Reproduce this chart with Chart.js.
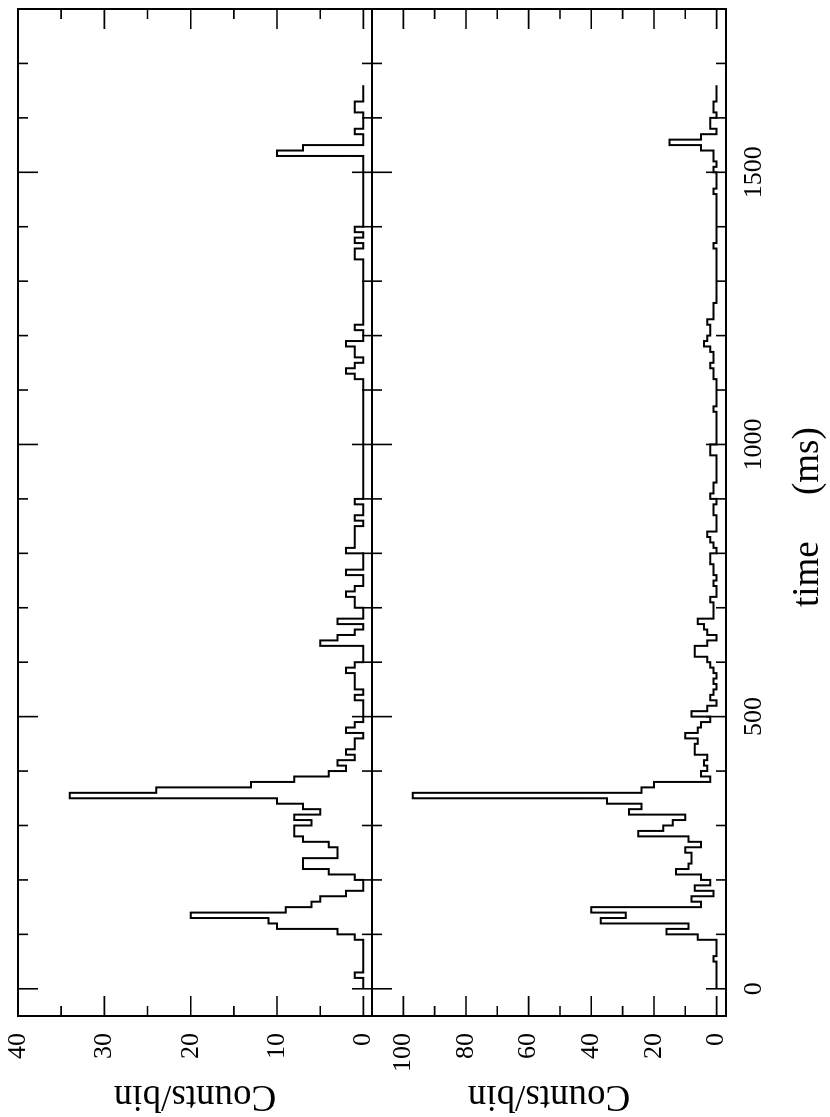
<!DOCTYPE html>
<html>
<head>
<meta charset="utf-8">
<script src="https://cdn.jsdelivr.net/npm/chart.js@4.4.1/dist/chart.umd.min.js"></script>
<style>
  html, body { margin: 0; padding: 0; background: #fff; overflow: hidden; }
  /* the plot is drawn landscape, then turned a quarter turn to fit the page */
  #wrap { position: absolute; left: 0; top: 0; width: 1117px; height: 830px;
          transform-origin: 0 0; transform: translateY(1117px) rotate(-90deg); }
</style>
</head>
<body>
<div id="wrap"><canvas id="chart" width="1117" height="830"></canvas></div>
<script>
// 10 ms bins, first bin starts at 0 ms
var binWidthMs = 10;
var binStartMs = 0;

// upper panel, counts per bin
var countsUpper = [
  0, 0, 1, 0, 0, 0, 0, 0, 0, 1,
  3, 10, 11, 20, 9, 6, 5, 2, 0, 0,
  1, 4, 7, 7, 3, 3, 4, 7, 8, 8,
  6, 8, 5, 7, 10, 34, 24, 13, 8, 4,
  2, 3, 1, 2, 1, 1, 0, 2, 1, 0,
  0, 0, 0, 1, 0, 1, 1, 1, 2, 1,
  0, 0, 0, 5, 3, 1, 0, 3, 0, 0,
  1, 1, 2, 1, 0, 0, 2, 0, 0, 0,
  2, 1, 1, 1, 1, 0, 1, 0, 0, 1,
  0, 0, 0, 0, 0, 0, 0, 0, 0, 0,
  0, 0, 0, 0, 0, 0, 0, 0, 0, 0,
  0, 0, 1, 2, 1, 0, 1, 1, 2, 0,
  0, 1, 0, 0, 0, 0, 0, 0, 0, 0,
  0, 0, 0, 0, 1, 1, 0, 1, 0, 1,
  0, 0, 0, 0, 0, 0, 0, 0, 0, 0,
  0, 0, 0, 10, 7, 0, 0, 1, 0, 0,
  0, 1, 1, 0, 0, 0
];

// lower panel, counts per bin
var countsLower = [
  0, 0, 0, 0, 0, 1, 0, 0, 0, 6,
  16, 9, 37, 29, 40, 5, 8, 1, 7, 2,
  5, 13, 9, 8, 8, 10, 5, 9, 25, 17,
  14, 10, 28, 24, 35, 97, 24, 20, 2, 5,
  3, 4, 3, 7, 7, 6, 10, 6, 5, 2,
  8, 3, 0, 2, 1, 0, 1, 0, 1, 2,
  3, 7, 7, 3, 0, 3, 4, 6, 1, 1,
  1, 2, 0, 0, 1, 0, 1, 1, 2, 2,
  0, 1, 2, 3, 0, 0, 0, 1, 1, 0,
  2, 1, 1, 0, 0, 0, 0, 0, 2, 2,
  0, 0, 0, 0, 0, 0, 1, 0, 0, 0,
  0, 0, 1, 1, 2, 1, 1, 2, 4, 3,
  2, 2, 3, 1, 1, 1, 0, 0, 0, 0,
  0, 0, 0, 0, 0, 0, 1, 0, 0, 0,
  0, 0, 0, 0, 0, 0, 1, 0, 0, 0,
  1, 0, 1, 1, 5, 15, 5, 0, 2, 2,
  0, 1, 1, 0, 0, 0
];

var timeLabelTicks = [0, 500, 1000, 1500];
var timeMinorTicks = [0, 100, 200, 300, 400, 500, 600, 700, 800, 900,
                      1000, 1100, 1200, 1300, 1400, 1500, 1600, 1700];
var upperLabelTicks = [0, 10, 20, 30, 40];
var upperMinorTicks = [0, 5, 10, 15, 20, 25, 30, 35];
var lowerLabelTicks = [0, 20, 40, 60, 80, 100];
var lowerMinorTicks = [0, 10, 20, 30, 40, 50, 60, 70, 80, 90, 100];

var serif = "'Liberation Serif', 'Times New Roman', serif";
var tickFont = { family: serif, size: 26 };
var titleFont = { family: serif, size: 37, lineHeight: 1.15 };

function histPoints(counts) {
  var pts = counts.map(function (c, i) {
    return { x: binStartMs + i * binWidthMs, y: c };
  });
  // closing edge of the last bin
  pts.push({ x: binStartMs + counts.length * binWidthMs, y: counts[counts.length - 1] });
  return pts;
}

function fixedTicks(list) {
  return function (scale) {
    scale.ticks = list.map(function (v) { return { value: v }; });
  };
}

function countAxis(minV, maxV, labels) {
  return {
    type: 'linear',
    position: 'left',
    stack: 'panels',
    stackWeight: 1,
    min: minV,
    max: maxV,
    grid: { display: false },
    border: { display: false },
    afterBuildTicks: fixedTicks(labels),
    afterFit: function (s) { s.width = 101; s.paddingTop = 0; s.paddingBottom = 0; },
    ticks: {
      font: tickFont, color: '#000', padding: 9, autoSkip: false,
      callback: function (v) { return String(v); }
    },
    title: { display: true, text: 'Counts/bin', font: titleFont, color: '#000', padding: 0 }
  };
}

// frame of each panel with inward ticks on all four sides
var frameTicks = {
  id: 'frameTicks',
  afterDatasetsDraw: function (chart) {
    var ctx = chart.ctx;
    var area = chart.chartArea;
    var xs = chart.scales.x;
    var panels = [
      [chart.scales.yUp, upperMinorTicks, upperLabelTicks],
      [chart.scales.yLow, lowerMinorTicks, lowerLabelTicks]
    ];
    ctx.save();
    ctx.strokeStyle = '#000';
    panels.forEach(function (p) {
      var ys = p[0];
      ctx.lineWidth = 1.6;
      ctx.beginPath();
      timeMinorTicks.forEach(function (t) {
        var px = xs.getPixelForValue(t);
        var len = timeLabelTicks.indexOf(t) >= 0 ? 20 : 10;
        ctx.moveTo(px, ys.bottom); ctx.lineTo(px, ys.bottom - len);
        ctx.moveTo(px, ys.top); ctx.lineTo(px, ys.top + len);
      });
      p[1].forEach(function (c) {
        var py = ys.getPixelForValue(c);
        var len = p[2].indexOf(c) >= 0 ? 20 : 10;
        ctx.moveTo(area.left, py); ctx.lineTo(area.left + len, py);
        ctx.moveTo(area.right, py); ctx.lineTo(area.right - len, py);
      });
      ctx.stroke();
      ctx.lineWidth = 2;
      ctx.strokeRect(area.left, ys.top, area.right - area.left, ys.bottom - ys.top);
    });
    ctx.restore();
  }
};

var chart = new Chart(document.getElementById('chart'), {
  type: 'line',
  data: {
    datasets: [{
      data: histPoints(countsUpper),
      yAxisID: 'yUp',
      stepped: 'before',
      borderColor: '#000',
      borderWidth: 2,
      pointRadius: 0,
      fill: false
    }, {
      data: histPoints(countsLower),
      yAxisID: 'yLow',
      stepped: 'before',
      borderColor: '#000',
      borderWidth: 2,
      pointRadius: 0,
      fill: false
    }]
  },
  options: {
    responsive: false,
    animation: false,
    devicePixelRatio: 1,
    layout: { padding: { left: 0, right: 9, top: 18, bottom: 0 } },
    plugins: { legend: { display: false }, tooltip: { enabled: false } },
    scales: {
      x: {
        type: 'linear',
        position: 'bottom',
        min: -50,
        max: 1800,
        grid: { display: false },
        border: { display: false },
        afterBuildTicks: fixedTicks(timeLabelTicks),
        afterFit: function (s) { s.height = 104; s.paddingLeft = 0; s.paddingRight = 0; },
        ticks: {
          font: tickFont, color: '#000', padding: 5, maxRotation: 0, autoSkip: false,
          callback: function (v) { return String(v); }
        },
        title: { display: true, text: 'time     (ms) ', font: titleFont, color: '#000', padding: 0 }
      },
      // stacked left axes are laid out last-defined on top
      yLow: countAxis(-3, 110, lowerLabelTicks),
      yUp: countAxis(-1, 40, upperLabelTicks)
    }
  },
  plugins: [frameTicks]
});
</script>
</body>
</html>
